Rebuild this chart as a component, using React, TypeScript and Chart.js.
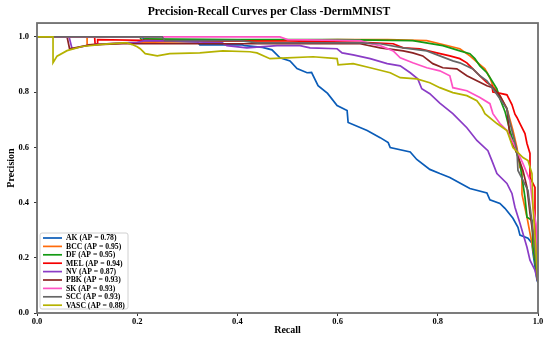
import React, { useEffect, useRef } from 'react';
import { Chart, registerables } from 'chart.js';

Chart.register(...registerables);

const titleText = 'Precision-Recall Curves per Class -DermMNIST';
const xAxisLabel = 'Recall';
const yAxisLabel = 'Precision';

const classNames = ['AK', 'BCC', 'DF', 'MEL', 'NV', 'PBK', 'SK', 'SCC', 'VASC'];
const apScores = [0.78, 0.95, 0.95, 0.94, 0.87, 0.93, 0.93, 0.93, 0.88];
const classColors = ['#0a5cb8', '#ff6a0a', '#149a14', '#f40000', '#8a3cc6', '#8b2323', '#ff52c4', '#666666', '#b5b200'];

const xTickValues = [0, 0.2, 0.4, 0.6, 0.8, 1.0];
const yTickValues = [0, 0.2, 0.4, 0.6, 0.8, 1.0];

const akRecall = [0, 0.21, 0.215, 0.32, 0.325, 0.41, 0.415, 0.45, 0.469, 0.485, 0.505, 0.519, 0.539, 0.548, 0.561, 0.58, 0.599, 0.619, 0.621, 0.659, 0.685, 0.701, 0.705, 0.745, 0.758, 0.784, 0.804, 0.824, 0.844, 0.864, 0.898, 0.904, 0.924, 0.934, 0.95, 0.96, 0.964, 0.98, 0.988, 0.99, 0.998, 1.0];
const akPrecision = [1, 1, 0.985, 0.982, 0.971, 0.971, 0.968, 0.962, 0.953, 0.924, 0.913, 0.885, 0.87, 0.871, 0.823, 0.795, 0.751, 0.733, 0.69, 0.661, 0.635, 0.617, 0.599, 0.583, 0.556, 0.52, 0.505, 0.491, 0.471, 0.451, 0.435, 0.41, 0.397, 0.379, 0.343, 0.31, 0.282, 0.271, 0.253, 0.217, 0.119, 0.11];

const bccRecall = [0, 0.1, 0.1, 0.2, 0.4, 0.6, 0.7, 0.778, 0.804, 0.844, 0.864, 0.88, 0.894, 0.904, 0.91, 0.918, 0.924, 0.938, 0.95, 0.958, 0.964, 0.968, 0.968, 0.978, 0.988, 0.995, 1.0];
const bccPrecision = [1, 1, 0.971, 0.98, 0.985, 0.99, 0.99, 0.986, 0.975, 0.957, 0.931, 0.906, 0.884, 0.852, 0.823, 0.805, 0.787, 0.74, 0.661, 0.599, 0.527, 0.52, 0.43, 0.347, 0.25, 0.18, 0.11];

const dfRecall = [0, 0.205, 0.21, 0.215, 0.4, 0.6, 0.75, 0.81, 0.844, 0.864, 0.874, 0.884, 0.898, 0.908, 0.918, 0.924, 0.934, 0.944, 0.954, 0.964, 0.974, 0.978, 0.988, 0.99, 1.0];
const dfPrecision = [1, 1, 0.985, 0.993, 0.99, 0.99, 0.986, 0.968, 0.949, 0.939, 0.921, 0.895, 0.87, 0.841, 0.812, 0.776, 0.73, 0.661, 0.599, 0.541, 0.419, 0.347, 0.336, 0.238, 0.11];

const melRecall = [0, 0.115, 0.116, 0.12, 0.121, 0.3, 0.5, 0.65, 0.711, 0.731, 0.764, 0.798, 0.824, 0.844, 0.858, 0.87, 0.884, 0.898, 0.908, 0.91, 0.925, 0.938, 0.948, 0.954, 0.958, 0.964, 0.974, 0.978, 0.984, 0.984, 0.994, 0.994, 1.0];
const melPrecision = [1, 1, 0.975, 0.975, 0.99, 0.985, 0.985, 0.98, 0.975, 0.96, 0.957, 0.942, 0.931, 0.921, 0.906, 0.884, 0.859, 0.834, 0.823, 0.8, 0.795, 0.79, 0.755, 0.72, 0.708, 0.686, 0.65, 0.614, 0.578, 0.491, 0.455, 0.336, 0.11];

const nvRecall = [0, 0.064, 0.07, 0.106, 0.17, 0.2, 0.216, 0.27, 0.37, 0.379, 0.419, 0.479, 0.525, 0.545, 0.599, 0.609, 0.631, 0.665, 0.699, 0.725, 0.745, 0.76, 0.768, 0.784, 0.804, 0.83, 0.858, 0.878, 0.9, 0.908, 0.918, 0.938, 0.948, 0.954, 0.964, 0.978, 0.984, 0.994, 1.0];
const nvPrecision = [1, 1, 0.957, 0.971, 0.978, 0.98, 0.986, 0.985, 0.978, 0.968, 0.96, 0.968, 0.968, 0.96, 0.957, 0.942, 0.935, 0.921, 0.903, 0.895, 0.87, 0.848, 0.812, 0.794, 0.76, 0.722, 0.671, 0.625, 0.588, 0.552, 0.505, 0.469, 0.433, 0.383, 0.325, 0.238, 0.191, 0.155, 0.11];

const pbkRecall = [0, 0.06, 0.065, 0.106, 0.172, 0.25, 0.4, 0.645, 0.685, 0.731, 0.75, 0.77, 0.79, 0.81, 0.838, 0.858, 0.878, 0.898, 0.91, 0.924, 0.938, 0.944, 0.958, 0.97, 0.978, 0.984, 0.994, 1.0];
const pbkPrecision = [1, 1, 0.957, 0.971, 0.975, 0.975, 0.975, 0.975, 0.96, 0.949, 0.942, 0.931, 0.903, 0.888, 0.884, 0.859, 0.841, 0.823, 0.816, 0.787, 0.74, 0.635, 0.578, 0.516, 0.455, 0.361, 0.238, 0.11];

const skRecall = [0, 0.485, 0.5, 0.645, 0.665, 0.685, 0.711, 0.725, 0.75, 0.778, 0.804, 0.824, 0.83, 0.858, 0.884, 0.904, 0.91, 0.924, 0.938, 0.955, 0.97, 0.984, 0.99, 0.996, 0.998, 1.0];
const skPrecision = [1, 1, 0.99, 0.986, 0.975, 0.968, 0.949, 0.924, 0.906, 0.888, 0.877, 0.859, 0.816, 0.805, 0.78, 0.758, 0.722, 0.686, 0.661, 0.6, 0.541, 0.48, 0.383, 0.325, 0.25, 0.11];

const sccRecall = [0, 0.25, 0.255, 0.405, 0.44, 0.6, 0.645, 0.685, 0.731, 0.778, 0.804, 0.83, 0.844, 0.87, 0.884, 0.898, 0.91, 0.924, 0.938, 0.944, 0.958, 0.96, 0.97, 0.98, 0.99, 1.0];
const sccPrecision = [1, 1, 0.986, 0.986, 0.978, 0.978, 0.978, 0.975, 0.96, 0.949, 0.931, 0.913, 0.906, 0.884, 0.859, 0.841, 0.812, 0.776, 0.74, 0.69, 0.588, 0.516, 0.48, 0.444, 0.3, 0.11];

const vascRecall = [0, 0.032, 0.032, 0.04, 0.06, 0.09, 0.13, 0.172, 0.18, 0.19, 0.2, 0.206, 0.216, 0.24, 0.265, 0.325, 0.371, 0.425, 0.439, 0.465, 0.499, 0.551, 0.599, 0.601, 0.631, 0.665, 0.705, 0.725, 0.758, 0.784, 0.804, 0.83, 0.858, 0.878, 0.888, 0.894, 0.918, 0.938, 0.95, 0.97, 0.98, 0.988, 0.99, 0.995, 1.0];
const vascPrecision = [1, 1, 0.906, 0.93, 0.95, 0.965, 0.973, 0.978, 0.978, 0.972, 0.964, 0.957, 0.939, 0.931, 0.939, 0.942, 0.949, 0.946, 0.942, 0.921, 0.924, 0.928, 0.921, 0.899, 0.903, 0.888, 0.87, 0.852, 0.848, 0.834, 0.816, 0.798, 0.787, 0.769, 0.744, 0.722, 0.686, 0.661, 0.599, 0.563, 0.552, 0.505, 0.383, 0.25, 0.11];

const recallSeries = [akRecall, bccRecall, dfRecall, melRecall, nvRecall, pbkRecall, skRecall, sccRecall, vascRecall];
const precisionSeries = [akPrecision, bccPrecision, dfPrecision, melPrecision, nvPrecision, pbkPrecision, skPrecision, sccPrecision, vascPrecision];

const SERIF = "'Liberation Serif', 'Times New Roman', serif";

function zip(xs: number[], ys: number[]) {
  const n = Math.min(xs.length, ys.length);
  const out: { x: number; y: number }[] = [];
  for (let i = 0; i < n; i++) out.push({ x: xs[i], y: ys[i] });
  return out;
}

const decorPlugin = {
  id: 'decor',
  afterDatasetsDraw(chart: any) {
    const { ctx, chartArea: a } = chart;
    ctx.save();
    ctx.strokeStyle = '#6e6e6e';
    ctx.lineWidth = 1.8;
    ctx.strokeRect(a.left, a.top, a.right - a.left, a.bottom - a.top);
    ctx.restore();
  },
  afterDraw(chart: any) {
    const { ctx, chartArea: a } = chart;
    ctx.save();
    ctx.fillStyle = '#000';
    ctx.font = `bold 10px ${SERIF}`;
    ctx.textAlign = 'center';
    ctx.textBaseline = 'middle';
    ctx.fillText(xAxisLabel, (a.left + a.right) / 2, 330);
    ctx.save();
    ctx.translate(11, (a.top + a.bottom) / 2);
    ctx.rotate(-Math.PI / 2);
    ctx.fillText(yAxisLabel, 0, 0);
    ctx.restore();

    const bx = a.left + 3;
    const by = 233;
    const bw = 88;
    const bh = 76;
    ctx.beginPath();
    const r = 2;
    ctx.moveTo(bx + r, by);
    ctx.lineTo(bx + bw - r, by);
    ctx.arcTo(bx + bw, by, bx + bw, by + r, r);
    ctx.lineTo(bx + bw, by + bh - r);
    ctx.arcTo(bx + bw, by + bh, bx + bw - r, by + bh, r);
    ctx.lineTo(bx + r, by + bh);
    ctx.arcTo(bx, by + bh, bx, by + bh - r, r);
    ctx.lineTo(bx, by + r);
    ctx.arcTo(bx, by, bx + r, by, r);
    ctx.closePath();
    ctx.fillStyle = 'rgba(255,255,255,0.85)';
    ctx.fill();
    ctx.strokeStyle = '#d0d0d0';
    ctx.lineWidth = 1;
    ctx.stroke();

    ctx.font = `bold 7.7px ${SERIF}`;
    ctx.textAlign = 'left';
    ctx.textBaseline = 'middle';
    for (let i = 0; i < classNames.length; i++) {
      const y = by + 5 + i * 8.4;
      ctx.strokeStyle = classColors[i];
      ctx.lineWidth = 1.7;
      ctx.beginPath();
      ctx.moveTo(bx + 3, y);
      ctx.lineTo(bx + 22, y);
      ctx.stroke();
      ctx.fillStyle = '#000';
      ctx.fillText(`${classNames[i]} (AP = ${apScores[i].toFixed(2)})`, bx + 26, y + 0.5);
    }
    ctx.restore();
  },
};

export default function App() {
  const canvasRef = useRef<HTMLCanvasElement | null>(null);

  useEffect(() => {
    const canvas = canvasRef.current;
    if (!canvas) return;
    const datasets = classNames.map((name, i) => ({
      label: `${name} (AP = ${apScores[i].toFixed(2)})`,
      data: zip(recallSeries[i], precisionSeries[i]),
      borderColor: classColors[i],
      backgroundColor: classColors[i],
      borderWidth: 1.7,
      showLine: true,
      pointRadius: 0,
      pointHoverRadius: 0,
      tension: 0,
      fill: false,
      order: classNames.length - i,
    }));
    const tickFont = { family: SERIF, size: 8.5, weight: 'bold' as const };
    const chart = new Chart(canvas, {
      type: 'scatter',
      data: { datasets },
      options: {
        animation: false,
        responsive: false,
        devicePixelRatio: 1,
        layout: { padding: { left: 0, right: 12, top: 0, bottom: 0 } },
        plugins: {
          legend: { display: false },
          tooltip: { enabled: false },
          title: {
            display: true,
            text: titleText,
            color: '#000',
            font: { family: SERIF, size: 11.7, weight: 'bold' },
            padding: { top: 5, bottom: 4 },
          },
        },
        scales: {
          x: {
            type: 'linear',
            min: 0,
            max: 1,
            afterFit: (s: any) => {
              s.height = 26;
            },
            afterBuildTicks: (s: any) => {
              s.ticks = xTickValues.map((v) => ({ value: v }));
            },
            ticks: {
              callback: (v: any) => Number(v).toFixed(1),
              font: tickFont,
              color: '#000',
              padding: 1,
              maxRotation: 0,
              autoSkip: false,
            },
            grid: { display: true, drawOnChartArea: false, drawTicks: true, tickLength: 3, color: '#333' },
            border: { display: false },
          },
          y: {
            type: 'linear',
            min: 0,
            max: 1.05,
            afterFit: (s: any) => {
              s.width = 37;
            },
            afterBuildTicks: (s: any) => {
              s.ticks = yTickValues.map((v) => ({ value: v }));
            },
            ticks: {
              callback: (v: any) => Number(v).toFixed(1),
              font: tickFont,
              color: '#000',
              padding: 5,
              autoSkip: false,
            },
            grid: { display: true, drawOnChartArea: false, drawTicks: true, tickLength: 3, color: '#333' },
            border: { display: false },
          },
        },
      },
      plugins: [decorPlugin],
    } as any);
    return () => chart.destroy();
  }, []);

  return (
    <div style={{ position: 'fixed', left: 0, top: 0, width: 550, height: 339, background: '#fff' }}>
      <canvas ref={canvasRef} width={550} height={339} style={{ width: 550, height: 339, display: 'block' }} />
    </div>
  );
}
